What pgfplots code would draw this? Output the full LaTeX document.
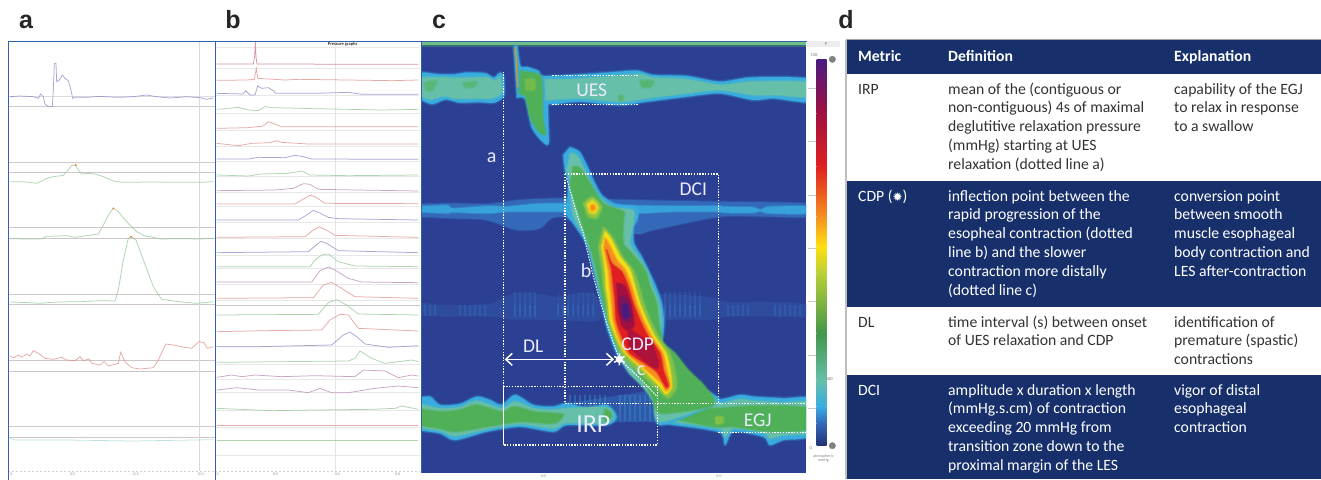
\documentclass[border=0pt]{standalone}
\usepackage{fontspec}
\usepackage{pgfplots}
\usetikzlibrary{arrows.meta}
\pgfplotsset{compat=1.18}
\setmainfont{Carlito}
\newfontfamily\lett{Liberation Sans}
\newfontfamily\djv{DejaVu Sans}
\definecolor{navy}{HTML}{17306B}
\definecolor{frameblue}{HTML}{2E62AE}
\definecolor{bgc}{HTML}{2B3F93}
\definecolor{c0}{HTML}{3468B8}
\definecolor{c1}{HTML}{38ACE0}
\definecolor{c2}{HTML}{66BFA8}
\definecolor{c3}{HTML}{4FB058}
\definecolor{c4}{HTML}{B8D038}
\definecolor{c5}{HTML}{FFE010}
\definecolor{c6}{HTML}{F59020}
\definecolor{c7}{HTML}{E02020}
\definecolor{c8}{HTML}{A01040}
\definecolor{c9}{HTML}{4A1A80}
\definecolor{tpur}{HTML}{8C88C6}
\definecolor{tgre}{HTML}{93C696}
\definecolor{tred}{HTML}{DE8E86}
\definecolor{tpin}{HTML}{B888B4}
\definecolor{tcya}{HTML}{A8D8D8}
\definecolor{refl}{HTML}{CFC6CA}
\newcommand\blob[2]{%
\addplot[draw=#1,draw opacity=.22,line width=3.5pt,line join=round,smooth,tension=.45] coordinates {#2} --cycle;
\addplot[fill=#1,draw=#1,draw opacity=.4,line width=1.4pt,line join=round,smooth,tension=.45] coordinates {#2} --cycle;}
\newcommand\tr[2]{\addplot[#1,line width=.75pt,opacity=.75] coordinates {#2};}
\newcommand\rl[1]{\addplot[refl,line width=.7pt] coordinates {(24,#1)(645,#1)};}
\newcommand\rlb[1]{\addplot[black!9,line width=.6pt] coordinates {(0,#1)(615,#1)};}
\newcommand\wdl[1]{\addplot[white,line width=1.05pt,dash pattern=on 1.4pt off 1.4pt] coordinates {#1};}
\newcommand\lab[4]{\node[text=white!92!blue,inner sep=0pt,font=\fontsize{#4}{#4}\selectfont] at (axis cs:#2,#3) {#1};}
\newcommand\cl[1]{\begin{tabular}[t]{@{}l@{}}#1\end{tabular}}
\pgfplotsset{pan/.style={hide axis,scale only axis,y dir=reverse,anchor=north west,clip=true}}
\begin{document}
\begin{tikzpicture}
\begin{scope}[x=1pt,y=1pt]
\useasboundingbox (0,0) rectangle (1321,-479);
\fill[white] (0,0) rectangle (1321,-479);
\node[font=\lett\bfseries\fontsize{25}{25}\selectfont,text=black!85,anchor=base] at (26,-28) {a};
\node[font=\lett\bfseries\fontsize{25}{25}\selectfont,text=black!85,anchor=base] at (233,-28) {b};
\node[font=\lett\bfseries\fontsize{25}{25}\selectfont,text=black!85,anchor=base] at (439,-28) {c};
\node[font=\lett\bfseries\fontsize{25}{25}\selectfont,text=black!85,anchor=base] at (846,-28) {d};
\end{scope}
% ---------- panel a
\begin{axis}[pan,at={(8pt,-41pt)},width=207pt,height=438pt,xmin=24,xmax=645,ymin=123,ymax=1437]
\rl{319}\rl{486}\rl{517}\rl{683}\rl{716}\rl{882}\rl{914}\rl{1081}\rl{1113}\rl{1280}\rl{1313}
\addplot[black!13,line width=.5pt] coordinates {(24,288)(645,288)};
\addplot[black!15,line width=.6pt] coordinates {(597,123)(597,1413)};
\addplot[black!18,line width=.8pt,dash pattern=on 2pt off 2pt] coordinates {(24,1413)(645,1413)};
\tr{tpur}{(30,290)(60,288)(100,290)(115,295)(122,282)(130,290)(135,312)(145,320)(157,320)(160,270)(163,190)(168,190)(170,245)(178,240)(187,225)(195,235)(205,242)(213,270)(218,295)(225,292)(260,292)(300,289)(350,292)(400,290)(440,285)(470,290)(510,294)(560,290)(600,293)(620,298)(640,294)}
\tr{tgre}{(30,545)(70,545)(110,550)(125,543)(140,535)(160,530)(190,526)(200,515)(215,497)(227,495)(235,510)(245,522)(265,520)(285,522)(310,530)(340,543)(370,547)(450,546)(550,547)(600,547)(640,545)}
\tr{tgre}{(30,716)(80,717)(125,717)(140,709)(170,708)(200,707)(225,712)(260,707)(295,702)(310,675)(325,645)(340,625)(355,635)(380,665)(410,695)(435,708)(460,712)(480,717)(540,716)(600,717)(640,715)}
\tr{tgre}{(30,906)(90,908)(120,910)(170,906)(240,905)(300,902)(345,903)(355,870)(370,780)(385,715)(395,710)(408,720)(430,780)(460,860)(485,898)(520,903)(590,910)(640,905)}
\tr{tred}{(30,1068)(42,1073)(55,1065)(65,1072)(80,1062)(90,1068)(100,1052)(115,1060)(135,1075)(160,1078)(185,1072)(200,1080)(225,1082)(240,1070)(250,1082)(268,1077)(275,1090)(300,1095)(312,1085)(325,1098)(355,1090)(362,1057)(375,1085)(395,1103)(420,1107)(460,1103)(475,1080)(497,1032)(520,1035)(545,1040)(575,1045)(597,1025)(612,1028)(622,1045)(640,1040)}
\tr{tcya}{(30,1315)(45,1320)(200,1320)(400,1323)(640,1319)}
\addplot[only marks,mark=*,mark size=.6pt,color=orange!80!red] coordinates {(227,495)(340,625)(393,710)};
\node[font=\fontsize{4}{4}\selectfont,text=black!45] at (axis cs:34,1424) {0};
\node[font=\fontsize{4}{4}\selectfont,text=black!45] at (axis cs:218,1424) {0:5};
\node[font=\fontsize{4}{4}\selectfont,text=black!45] at (axis cs:408,1424) {0:5};
\node[font=\fontsize{4}{4}\selectfont,text=black!45] at (axis cs:603,1424) {0:0};
\end{axis}
% ---------- panel b
\begin{axis}[pan,at={(215pt,-41pt)},width=205pt,height=438pt,xmin=0,xmax=615,ymin=123,ymax=1437]
\rlb{143}\rlb{205}\rlb{285}\rlb{340}\rlb{390}\rlb{440}\rlb{485}\rlb{530}\rlb{578}\rlb{618}\rlb{668}\rlb{716}\rlb{765}\rlb{806}\rlb{852}\rlb{900}\rlb{1038}\rlb{1092}\rlb{1137}\rlb{1178}\rlb{1232}\rlb{1281}\rlb{1366}
\addplot[black!22,line width=.8pt] coordinates {(0,915)(615,915)};
\addplot[black!10,line width=.6pt] coordinates {(360,123)(360,1413)};
\addplot[black!18,line width=.8pt,dash pattern=on 2pt off 2pt] coordinates {(0,1413)(615,1413)};
\tr{tpin!80!red}{(5,192)(115,192)(119,170)(121,125)(123,170)(126,192)(610,193)}
\tr{tred}{(5,241)(95,240)(118,238)(124,205)(128,235)(210,240)(250,238)(400,240)(530,242)(610,240)}
\tr{tpur}{(5,280)(85,282)(92,272)(105,285)(120,285)(128,258)(140,265)(160,263)(175,272)(182,280)(300,280)(400,277)(440,283)(610,283)}
\tr{tgre}{(5,328)(40,325)(70,322)(100,330)(130,332)(150,320)(175,323)(300,326)(500,330)(610,328)}
\tr{tred}{(5,385)(100,383)(145,378)(160,365)(180,372)(198,380)(610,380)}
\tr{tred}{(5,430)(70,437)(110,430)(165,428)(185,422)(200,427)(280,432)(610,432)}
\tr{tpur}{(5,477)(100,477)(130,472)(210,473)(240,466)(265,470)(290,477)(610,478)}
\tr{tgre}{(5,525)(100,528)(135,522)(220,520)(260,513)(285,525)(400,527)(610,525)}
\tr{tpin}{(5,572)(180,570)(235,565)(265,551)(285,553)(310,568)(610,573)}
\tr{tred}{(5,612)(240,612)(260,600)(285,586)(300,590)(330,610)(610,611)}
\tr{tpur}{(5,660)(250,660)(275,645)(295,631)(310,637)(340,652)(370,656)(610,660)}
\tr{tred}{(5,712)(270,710)(295,690)(312,681)(330,688)(360,706)(610,712)}
\tr{tpur}{(5,758)(280,755)(300,738)(318,724)(335,730)(370,752)(610,758)}
\tr{tgre}{(5,800)(285,800)(300,780)(320,765)(340,762)(370,785)(420,798)(610,800)}
\tr{tpin}{(5,846)(290,846)(315,812)(340,801)(360,810)(400,835)(440,846)(610,848)}
\tr{tred}{(5,895)(295,893)(325,855)(350,847)(375,862)(420,890)(610,895)}
\tr{tgre}{(5,945)(310,943)(340,908)(365,899)(395,915)(430,942)(610,945)}
\tr{tred}{(5,995)(150,992)(320,990)(345,960)(375,943)(400,945)(430,985)(610,993)}
\tr{tpur}{(5,1040)(130,1040)(350,1035)(385,1005)(405,996)(425,1010)(450,1032)(520,1042)(610,1037)}
\tr{tgre}{(5,1087)(400,1083)(420,1075)(435,1053)(470,1075)(510,1090)(590,1080)(610,1085)}
\tr{tpin}{(5,1132)(50,1125)(80,1130)(120,1125)(200,1130)(300,1127)(420,1130)(445,1110)(510,1113)(550,1133)(590,1125)(610,1128)}
\tr{tpin}{(5,1170)(65,1163)(130,1170)(220,1170)(280,1178)(315,1165)(350,1178)(400,1178)(480,1165)(550,1158)(610,1163)}
\tr{tgre}{(5,1225)(170,1232)(300,1230)(470,1228)(540,1225)(560,1218)(610,1228)}
\tr{tred}{(5,1276)(300,1276)(610,1276)}
\tr{tgre}{(5,1321)(300,1321)(610,1321)}
\node[font=\bfseries\fontsize{4.5}{4.5}\selectfont,text=black!80] at (axis cs:383,133) {Pressure graphs};
\node[font=\fontsize{4}{4}\selectfont,text=black!45] at (axis cs:8,1424) {0};
\node[font=\fontsize{4}{4}\selectfont,text=black!45] at (axis cs:182,1424) {0:5};
\node[font=\fontsize{4}{4}\selectfont,text=black!45] at (axis cs:367,1424) {0:5};
\node[font=\fontsize{4}{4}\selectfont,text=black!45] at (axis cs:548,1424) {0:0};
\end{axis}
% ---------- panel c heat map
\begin{axis}[pan,at={(421pt,-41pt)},width=385pt,height=438pt,xmin=3,xmax=1158,ymin=123,ymax=1437]
\addplot[fill=bgc,draw=none] coordinates {(3,123)(1158,123)(1158,1420)(3,1420)} --cycle;
\addplot[fill=c3!70!c2!85!white,draw=none] coordinates {(3,123)(1158,123)(1158,136)(3,136)} --cycle;
\addplot[fill=c3!40!bgc,draw=none] coordinates {(3,136)(1158,136)(1158,142)(3,142)} --cycle;
% faint stripes at y~930
\addplot[fill=c0!30!bgc,draw=none,smooth] coordinates {(-10,905)(60,915)(110,915)(210,910)(280,880)(350,880)(410,890)(520,880)(540,960)(410,960)(350,960)(280,960)(210,950)(110,950)(60,950)(-10,945)} --cycle;
\addplot[fill=c0!30!bgc,draw=none,smooth] coordinates {(700,880)(860,890)(920,905)(1000,905)(1060,905)(1170,915)(1170,950)(1060,950)(1000,950)(920,950)(860,960)(700,960)} --cycle;
\pgfplotsinvokeforeach{285,300,315,330,345,415,430,445,460,475,490,505,520,735,750,765,780,795,810,825,840}{\addplot[c0,line width=1.6pt,opacity=.4] coordinates {(#1,875)(#1,955)};}
\pgfplotsinvokeforeach{15,30,45,120,135,150,165,180,195,285,300,315,330,345,415,430,445,460,475,490,505,520,735,750,765,780,795,810,825,840,925,940,955,970,985,1065,1080,1095,1110,1125,1140}{\addplot[c0!85!c1,line width=1.7pt,opacity=.4] coordinates {(#1,915)(#1,948)};}
% band at y~628
\addplot[fill=c0,draw=c0,draw opacity=.4,line width=2pt,smooth] coordinates {(-10,612)(100,610)(200,612)(300,600)(420,595)(640,600)(900,605)(1170,612)(1170,650)(1050,650)(900,650)(700,690)(640,700)(420,650)(360,685)(290,690)(200,660)(100,655)(-10,650)} --cycle;
\addplot[fill=c1!85!c0,draw=c1!85!c0,draw opacity=.4,line width=2pt,smooth] coordinates {(-10,620)(80,616)(100,625)(205,618)(260,620)(340,612)(420,610)(560,615)(760,618)(890,618)(915,620)(1000,622)(1020,630)(1050,620)(1170,620)(1170,640)(1050,640)(1020,633)(1000,638)(915,638)(890,635)(760,635)(640,640)(420,635)(340,635)(260,635)(205,640)(100,637)(80,640)(-10,635)} --cycle;
% UES
\blob{c1}{(-10,218)(16,218)(56,223)(106,223)(136,218)(196,220)(221,233)(241,218)(251,233)(251,288)(221,308)(176,306)(121,308)(76,298)(36,312)(-10,293)}
\blob{c2}{(-10,232)(60,232)(120,234)(200,232)(225,243)(240,232)(245,278)(215,295)(170,295)(110,296)(70,288)(30,298)(-10,282)}
\blob{c3!60!c2}{(12,250)(50,242)(35,272)(18,270)}
\blob{c3!60!c2}{(130,248)(170,246)(160,262)(135,262)}
\blob{c1}{(281,143)(291,138)(301,198)(321,201)(356,213)(371,228)(486,223)(560,218)(650,212)(700,225)(800,228)(900,245)(1000,232)(1175,238)(1175,305)(1060,295)(1000,300)(900,280)(800,290)(680,305)(600,315)(480,305)(401,313)(384,318)(386,428)(368,425)(336,383)(316,298)(291,293)}
\blob{c2}{(375,238)(450,238)(560,230)(660,223)(700,233)(800,238)(900,255)(1000,245)(1175,248)(1175,290)(1060,285)(1000,285)(900,270)(800,280)(680,295)(600,305)(480,295)(378,300)}
\blob{c3}{(302,213)(356,223)(366,248)(368,353)(376,403)(356,393)(331,353)(316,288)(301,283)}
\blob{c3!65!c4}{(315,238)(342,238)(345,268)(318,270)}
\blob{c3!70!c2}{(660,243)(700,243)(690,262)(665,260)}
\blob{c3!70!c2}{(596,288)(610,288)(606,302)(598,302)}
\addplot[c3,line width=1.8pt,opacity=.7] coordinates {(285,142)(292,200)(296,280)};
\addplot[c6,line width=1.1pt] coordinates {(286,142)(290,200)(294,262)};
% EGJ
\addplot[fill=c0!60!bgc,draw=none] coordinates {(440,1210)(700,1170)(720,1265)(440,1270)} --cycle;
\pgfplotsinvokeforeach{450,465,480,495,510,525,540,555,600,615,630,645,660,675,690}{\addplot[c1!60!c0,line width=2.4pt,opacity=.42] coordinates {(#1,1185)(#1,1262)};}
\blob{c1}{(-10,1195)(30,1190)(60,1215)(120,1212)(170,1190)(210,1200)(245,1215)(285,1185)(340,1215)(400,1220)(440,1210)(500,1225)(560,1215)(590,1250)(560,1275)(440,1275)(400,1295)(300,1280)(200,1295)(105,1320)(60,1300)(-10,1290)}
\blob{c2}{(-10,1210)(60,1225)(120,1222)(170,1203)(245,1225)(285,1205)(340,1225)(400,1230)(440,1225)(560,1222)(580,1250)(555,1270)(440,1268)(400,1285)(300,1272)(200,1287)(105,1308)(60,1292)(-10,1282)}
\blob{c3}{(-10,1225)(60,1235)(120,1230)(170,1215)(245,1235)(285,1220)(340,1235)(400,1240)(430,1245)(400,1270)(300,1265)(200,1280)(105,1295)(60,1285)(-10,1275)}
\blob{c3}{(555,1228)(570,1235)(575,1250)(558,1265)(550,1250)}
\blob{c1}{(700,1180)(880,1200)(960,1185)(1000,1190)(1090,1195)(1175,1198)(1175,1305)(1090,1320)(1050,1335)(1030,1310)(940,1295)(915,1335)(895,1295)(720,1270)}
\blob{c2}{(710,1195)(880,1212)(960,1198)(1000,1203)(1090,1208)(1175,1210)(1175,1295)(1090,1305)(1050,1315)(1030,1298)(940,1285)(915,1310)(895,1285)(725,1262)}
\blob{c3}{(720,1220)(880,1225)(1000,1218)(1175,1225)(1175,1285)(1060,1295)(940,1280)(880,1280)(730,1250)}
\blob{c3!50!c4}{(885,1252)(908,1250)(908,1270)(888,1272)}
% contraction
\blob{c1}{(450,442)(478,455)(500,495)(520,540)(545,585)(585,612)(650,622)(652,660)(640,680)(642,730)(665,770)(685,810)(708,860)(725,910)(732,960)(730,1000)(725,1050)(780,1100)(820,1150)(875,1180)(892,1208)(720,1275)(705,1200)(675,1155)(630,1120)(590,1060)(560,980)(545,910)(532,860)(520,810)(505,750)(490,715)(460,670)(440,640)(445,550)(435,510)(430,465)}
\blob{c2}{(452,460)(470,465)(492,505)(512,548)(538,592)(580,622)(640,632)(638,680)(630,730)(655,770)(680,810)(698,860)(718,910)(724,960)(722,1000)(716,1045)(770,1100)(812,1150)(868,1188)(882,1212)(720,1265)(700,1205)(670,1162)(625,1115)(597,1058)(570,980)(552,910)(537,860)(525,810)(510,750)(495,710)(465,660)(455,620)(452,550)(440,510)}
\blob{c3}{(460,500)(480,505)(510,550)(550,610)(610,635)(610,660)(610,730)(635,760)(675,810)(690,860)(710,910)(715,960)(725,1010)(730,1030)(765,1060)(805,1110)(855,1160)(880,1215)(725,1240)(700,1200)(680,1160)(645,1110)(605,1060)(580,1010)(565,960)(552,910)(540,860)(530,810)(510,740)(490,680)(470,620)(450,560)}
\blob{c3!50!c4}{(490,610)(517,590)(545,620)(530,655)(503,650)}
\blob{c4}{(498,612)(518,598)(538,622)(525,645)(507,640)}
\blob{c5}{(505,615)(518,606)(531,622)(522,637)(510,634)}
\blob{c6}{(511,618)(519,613)(526,623)(520,632)(513,630)}
\blob{c3!50!c4}{(550,680)(578,712)(608,770)(640,810)(658,860)(672,910)(692,960)(716,1010)(750,1060)(764,1110)(770,1160)(745,1195)(715,1170)(660,1120)(608,1068)(583,1015)(565,965)(558,910)(550,860)(545,810)(535,740)}
\blob{c5!85!c4}{(555,695)(572,715)(600,770)(630,810)(645,860)(660,910)(680,960)(705,1010)(738,1060)(750,1110)(755,1160)(738,1182)(720,1160)(670,1110)(615,1060)(588,1010)(570,960)(565,910)(558,860)(555,810)(545,740)}
\blob{c6}{(555,715)(568,735)(590,780)(615,810)(635,860)(650,910)(670,960)(695,1010)(728,1060)(740,1110)(750,1158)(738,1172)(725,1150)(680,1110)(622,1060)(595,1010)(580,960)(575,910)(570,860)(565,810)(552,745)}
\blob{c7}{(560,750)(575,790)(605,815)(625,860)(640,910)(660,960)(685,1010)(720,1060)(730,1110)(745,1155)(738,1162)(725,1140)(705,1110)(630,1060)(605,1010)(588,960)(585,910)(580,860)(575,810)}
\blob{c8}{(590,850)(615,860)(635,925)(642,975)(625,990)(605,975)(595,930)}
\blob{c8!80!c7}{(625,985)(670,1015)(695,1025)(715,1085)(712,1105)(690,1095)(650,1062)(625,1035)}
\blob{c8!60!c9}{(600,888)(625,898)(636,950)(620,966)(605,950)(597,920)}
\blob{c9}{(608,915)(620,912)(627,945)(618,955)(608,945)}
% dotted annotation lines
\addplot[white,line width=1pt] coordinates {(250,1160)(250,1335)};
\wdl{(250,215)(250,1160)}
\wdl{(250,1160)(712,1160)(712,1335)(250,1335)}
\wdl{(397,227)(655,227)}
\wdl{(397,314)(655,314)}
\wdl{(435,522)(895,522)(895,1210)(1158,1210)}
\wdl{(435,522)(435,1210)(895,1210)}
\wdl{(895,1297)(1158,1297)}
\wdl{(440,535)(470,640)(490,700)(520,830)(560,970)(598,1078)}
\wdl{(598,1078)(660,1135)(712,1190)}
\addplot[white,line width=1.5pt,{Straight Barb[length=6.5pt,width=12pt,line width=1.5pt]}-{Straight Barb[length=6.5pt,width=12pt,line width=1.5pt]}] coordinates {(254,1078)(582,1078)};
\addplot[only marks,mark=asterisk,mark size=6pt,mark options={white,line width=1.5pt}] coordinates {(598,1078)};
\addplot[only marks,mark=*,mark size=3.4pt,mark options={white,draw=white}] coordinates {(598,1078)};
% labels
\lab{a}{215}{473}{20}\lab{b}{498}{812}{20}\lab{c}{663}{1113}{20}\lab{UES}{515}{270}{19.5}\lab{DCI}{820}{567}{19.5}\lab{DL}{340}{1040}{19.5}\lab{CDP}{653}{1033}{19.5}\lab{IRP}{520}{1272}{26}\lab{EGJ}{1013}{1262}{19.5}
\node[font=\fontsize{4}{4}\selectfont,text=black!45] at (axis cs:370,1429) {0:0};
\node[font=\fontsize{4}{4}\selectfont,text=black!45] at (axis cs:897,1429) {0:0};
\end{axis}
% ---------- colour bar
\begin{axis}[pan,at={(806pt,-41pt)},width=34pt,height=438pt,xmin=1158,xmax=1260,ymin=123,ymax=1437]
\addplot[fill=black!7,draw=none] coordinates {(1160,123)(1260,123)(1260,142)(1160,142)} --cycle;
\shade[bottom color=c3!85!black,top color=c4] (axis cs:1190,1000) rectangle (axis cs:1220,820);
\shade[bottom color=c4,top color=c5] (axis cs:1190,820) rectangle (axis cs:1220,740);
\shade[bottom color=c5,top color=c6] (axis cs:1190,740) rectangle (axis cs:1220,650);
\shade[bottom color=c6,top color=c7] (axis cs:1190,650) rectangle (axis cs:1220,500);
\shade[bottom color=c7,top color=c8] (axis cs:1190,500) rectangle (axis cs:1220,340);
\shade[bottom color=c8,top color=c9] (axis cs:1190,340) rectangle (axis cs:1220,178);
\shade[bottom color=c2,top color=c3!85!black] (axis cs:1190,1140) rectangle (axis cs:1220,1000);
\shade[bottom color=c1,top color=c2] (axis cs:1190,1220) rectangle (axis cs:1220,1140);
\shade[bottom color=c0,top color=c1] (axis cs:1190,1270) rectangle (axis cs:1220,1220);
\shade[bottom color=bgc!80!black,top color=c0] (axis cs:1190,1335) rectangle (axis cs:1220,1270);
\pgfplotsinvokeforeach{265,425,585,745,905,1065,1225}{\addplot[black!22,line width=.5pt] coordinates {(1165,#1)(1187,#1)};}
\addplot[only marks,mark=*,mark size=3.2pt,color=black!50] coordinates {(1237,178)(1237,1337)};
\node[font=\fontsize{4.5}{4.5}\selectfont,text=black!55] at (axis cs:1182,165) {150};
\node[font=\fontsize{4.5}{4.5}\selectfont,text=black!55] at (axis cs:1218,132) {P};
\node[font=\fontsize{4.5}{4.5}\selectfont,text=black!55] at (axis cs:1228,1138) {100};
\node[font=\fontsize{4.5}{4.5}\selectfont,text=black!55] at (axis cs:1172,1345) {0};
\node[font=\fontsize{4}{4.5}\selectfont,text=black!50,align=center] at (axis cs:1210,1376) {atmospheric\\mmHg};
\end{axis}
\begin{scope}[x=1pt,y=1pt]
\clip (0,0) rectangle (1321,-479);
\draw[frameblue,line width=.9pt] (8,-479.5) -- (8,-41.5) -- (421,-41.5);
\draw[frameblue,line width=.9pt] (215,-41.5) -- (215,-479.5);
\draw[frameblue,line width=.9pt] (421,-41.5) -- (807,-41.5);
\draw[frameblue,line width=.9pt] (421,-41.5) -- (421,-473);
\fill[black!35] (845.5,-40) rectangle (1321,-39.3);
\fill[black!25] (845,-40) rectangle (847,-479);
\fill[navy] (847,-40) rectangle (1321,-74);
\fill[navy] (847,-181) rectangle (1321,-306.5);
\fill[navy] (847,-375) rectangle (1321,-479);
\tikzset{cell/.style={anchor=base west,inner sep=0pt,font=\fontsize{15.7}{18.85}\selectfont}}
\node[cell,text=white,font=\bfseries\fontsize{15.7}{18.85}\selectfont] at (858,-61.5) {Metric};
\node[cell,text=white,font=\bfseries\fontsize{15.7}{18.85}\selectfont] at (948,-61.5) {Definition};
\node[cell,text=white,font=\bfseries\fontsize{15.7}{18.85}\selectfont] at (1174,-61.5) {Explanation};
\node[cell,text=black!80] at (858,-94) {IRP};
\node[cell,text=black!80] at (948,-94) {\cl{mean of the (contiguous or\\non-contiguous) 4s of maximal\\deglutitive relaxation pressure\\(mmHg) starting at UES\\relaxation (dotted line a)}};
\node[cell,text=black!80] at (1174,-94) {\cl{capability of the EGJ\\to relax in response\\to a swallow}};
\node[cell,text=white] at (858,-201) {CDP ({\djv\fontsize{12}{12}\selectfont ✹})};
\node[cell,text=white] at (948,-201) {\cl{inflection point between the\\rapid progression of the\\esopheal contraction (dotted\\line b) and the slower\\contraction more distally\\(dotted line c)}};
\node[cell,text=white] at (1174,-201) {\cl{conversion point\\between smooth\\muscle esophageal\\body contraction and\\LES after-contraction}};
\node[cell,text=black!80] at (858,-327) {DL};
\node[cell,text=black!80] at (948,-327) {\cl{time interval (s) between onset\\of UES relaxation and CDP}};
\node[cell,text=black!80] at (1174,-327) {\cl{identification of\\premature (spastic)\\contractions}};
\node[cell,text=white] at (858,-395) {DCI};
\node[cell,text=white] at (948,-395) {\cl{amplitude x duration x length\\(mmHg.s.cm) of contraction\\exceeding 20 mmHg from\\transition zone down to the\\proximal margin of the LES}};
\node[cell,text=white] at (1174,-395) {\cl{vigor of distal\\esophageal\\contraction}};
\end{scope}
\end{tikzpicture}
\end{document}
